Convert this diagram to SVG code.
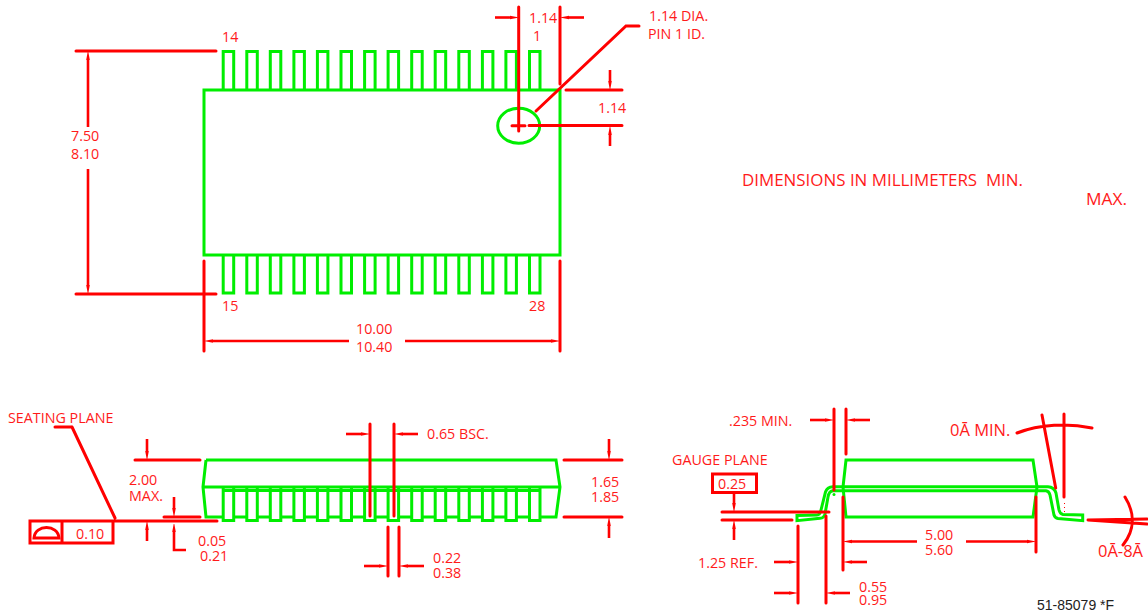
<svg xmlns="http://www.w3.org/2000/svg" width="1148" height="616" viewBox="0 0 1148 616">
<style>
text{font-family:"Open Sans","Liberation Sans",sans-serif;font-size:14.3px;fill:#ff1a1a}
.g{fill:none;stroke:#00ee00;stroke-width:3;stroke-linejoin:miter}
.r{fill:none;stroke:#ff0000;stroke-width:3;stroke-linecap:round;stroke-linejoin:miter}
.a{fill:none;stroke:#ff0000;stroke-width:2.600;stroke-linecap:butt;marker-end:url(#ah)}
.big{font-size:16.500px}
.blk{font-family:"Liberation Sans",Arial,sans-serif;font-size:14px;fill:#222}
</style>
<defs>
<marker id="ah" markerUnits="userSpaceOnUse" markerWidth="9" markerHeight="6" refX="0" refY="3" orient="auto">
<path d="M0 1.200L8 2.700V3.300L0 4.800Z" fill="#ff0000"/>
</marker>
<path id="pt" class="g" d="M0 38.500V0H10.500V38.500"/>
<path id="pb" class="g" d="M0 0V38H10.500V0"/>
<path id="ps" class="g" d="M0 0V34H10.500V0"/>
</defs>

<g id="top-view">
<rect class="g" x="204" y="90" width="356" height="165"/>
<ellipse class="g" cx="518.700" cy="125.700" rx="21" ry="17.500"/>
<g id="top-pins">
<use href="#pt" x="223.200" y="51.500"/><use href="#pt" x="246.800" y="51.500"/><use href="#pt" x="270.300" y="51.500"/><use href="#pt" x="293.900" y="51.500"/><use href="#pt" x="317.400" y="51.500"/><use href="#pt" x="341" y="51.500"/><use href="#pt" x="364.600" y="51.500"/><use href="#pt" x="388.100" y="51.500"/><use href="#pt" x="411.700" y="51.500"/><use href="#pt" x="435.200" y="51.500"/><use href="#pt" x="458.800" y="51.500"/><use href="#pt" x="482.400" y="51.500"/><use href="#pt" x="505.900" y="51.500"/><use href="#pt" x="529.500" y="51.500"/>
</g>
<g id="bottom-pins">
<use href="#pb" x="223.200" y="255"/><use href="#pb" x="246.800" y="255"/><use href="#pb" x="270.300" y="255"/><use href="#pb" x="293.900" y="255"/><use href="#pb" x="317.400" y="255"/><use href="#pb" x="341" y="255"/><use href="#pb" x="364.600" y="255"/><use href="#pb" x="388.100" y="255"/><use href="#pb" x="411.700" y="255"/><use href="#pb" x="435.200" y="255"/><use href="#pb" x="458.800" y="255"/><use href="#pb" x="482.400" y="255"/><use href="#pb" x="505.900" y="255"/><use href="#pb" x="529.500" y="255"/>
</g>
</g>

<g id="side-view">
<path class="g" d="M206 460H556L560 487L556 517H540M206 460L203 487L206 517H223.200M203 487H560M223 490.500H540"/>
<path class="g" d="M233.700 517H246.800M257.300 517H270.300M280.800 517H293.900M304.400 517H317.400M327.900 517H341M351.500 517H364.600M375.100 517H388.100M398.600 517H411.700M422.200 517H435.200M445.700 517H458.800M469.300 517H482.400M492.900 517H505.900M516.400 517H529.500"/>
<use href="#ps" x="223.200" y="486.500"/><use href="#ps" x="246.800" y="486.500"/><use href="#ps" x="270.300" y="486.500"/><use href="#ps" x="293.900" y="486.500"/><use href="#ps" x="317.400" y="486.500"/><use href="#ps" x="341" y="486.500"/><use href="#ps" x="364.600" y="486.500"/><use href="#ps" x="388.100" y="486.500"/><use href="#ps" x="411.700" y="486.500"/><use href="#ps" x="435.200" y="486.500"/><use href="#ps" x="458.800" y="486.500"/><use href="#ps" x="482.400" y="486.500"/><use href="#ps" x="505.900" y="486.500"/><use href="#ps" x="529.500" y="486.500"/>
</g>

<g id="end-view">
<path class="g" d="M846 460H1033L1037 487L1033 517H846L843 487Z"/>
<path class="g" d="M833 486.700H1048Q1054 487 1056 493L1059 510Q1060 514 1063 514.500L1082.700 515V520.700L1058 518.500Q1055 518 1054 515L1050 495Q1049 491 1046 490.700H833Q829 491 828 497L825 514Q824 518 820 518.300L797 520.700V515.500L817 515Q820 515 821 510L825.500 492Q827 487 833 486.700Z" stroke-width="2.600"/>
<circle cx="834" cy="494.500" r="1.500" fill="#00ee00"/>
</g>

<g id="connectors">
<path class="r" d="M518.700 7V122M512 125.700H525M518.700 122V131M560 7V84M566 90H622M529 125.500H622M639 26H626L536 111"/>
<path class="a" d="M495 17.500H510"/><path class="a" d="M584 17.500H569"/>
<path class="a" d="M610 70V81"/><path class="a" d="M610 146V135"/>
<path class="r" d="M76 51H216M76 294H216M204 261V351M560 261V351"/>
<path class="a" d="M88 127V60"/><path class="a" d="M88 169V285"/>
<path class="a" d="M349 341H213"/><path class="a" d="M405 341H551"/>

<path class="r" d="M72 427H55M72 427L115 518M30 521H113V543H30ZM62 521V543M113 521H217M135 460H200M164 517H200"/>
<path class="r" d="M34 538H59C58 524 35 524 34 538Z"/>
<path class="a" d="M147 439V451"/><path class="a" d="M147 541V530"/>
<path class="a" d="M174 497V508"/><path class="a" d="M186 550H174V532"/>
<path class="r" d="M370 424V516M394 424V516M564 460H622M564 517H622M388 527V576M399 527V576"/>
<path class="a" d="M346 434H361"/><path class="a" d="M418 434H403"/>
<path class="a" d="M609 439V451"/><path class="a" d="M609 538V526"/>
<path class="a" d="M364 566H379"/><path class="a" d="M424 566H408"/>

<path class="r" d="M834 409V490M846 409V454M722 512H829M722 520H792M798 526V603M826 516V603M843 497V570M1036 497V552"/>
<rect x="712.500" y="474" width="44" height="18.500" fill="none" stroke="#ff0000" stroke-width="3"/>
<path class="a" d="M810 420H825"/><path class="a" d="M870 420H855"/>
<path class="a" d="M734 493V503"/><path class="a" d="M734 540V529"/>
<path class="a" d="M774 562H789"/><path class="a" d="M774 593H789"/>
<path class="a" d="M850 593H835"/><path class="a" d="M867 562H852"/>
<path class="a" d="M917 541.500H852"/><path class="a" d="M966 541.500H1027"/>
<path class="r" d="M1042 415L1055.700 488M1064 414V497M1017 433C1040 424 1068 423 1092 428"/>
<path class="r" d="M1125 497C1135 513 1135 530 1123 545M1088 520L1147 519M1088 520L1147 524"/>
<path d="M1064.500 503V512" stroke="#ff0000" stroke-width="1" stroke-dasharray="1 3" fill="none"/>
</g>

<g id="labels">
<text x="529" y="23">1.14</text>
<text x="533" y="41">1</text>
<text x="649" y="21">1.14 DIA.</text>
<text x="648" y="39">PIN 1 ID.</text>
<text x="598" y="113">1.14</text>
<text x="71" y="141">7.50</text>
<text x="71" y="159">8.10</text>
<text x="222" y="42">14</text>
<text x="222" y="311">15</text>
<text x="529" y="311">28</text>
<text x="356" y="334">10.00</text>
<text x="356" y="352">10.40</text>
<text x="742" y="186" font-size="15.500" style="font-size:15.500px" xml:space="preserve" textLength="281" lengthAdjust="spacingAndGlyphs">DIMENSIONS IN MILLIMETERS  MIN.</text>
<text x="1086" y="205" style="font-size:15.500px" textLength="41" lengthAdjust="spacingAndGlyphs">MAX.</text>
<text x="8" y="423">SEATING PLANE</text>
<text x="76" y="539">0.10</text>
<text x="129" y="485">2.00</text>
<text x="129" y="501">MAX.</text>
<text x="198" y="546">0.05</text>
<text x="200" y="561">0.21</text>
<text x="427" y="439">0.65 BSC.</text>
<text x="591" y="487">1.65</text>
<text x="591" y="502">1.85</text>
<text x="433" y="563">0.22</text>
<text x="433" y="578">0.38</text>
<text x="729" y="426">.235 MIN.</text>
<text x="672" y="465">GAUGE PLANE</text>
<text x="718" y="489">0.25</text>
<text x="925" y="540">5.00</text>
<text x="925" y="555">5.60</text>
<text x="698" y="568">1.25 REF.</text>
<text x="859" y="592">0.55</text>
<text x="859" y="605">0.95</text>
<text class="big" x="950" y="436">0Ā MIN.</text>
<text class="big" x="1098" y="557">0Ā-8Ā</text>
<text class="blk" x="1037" y="610">51-85079 *F</text>
</g>
</svg>
